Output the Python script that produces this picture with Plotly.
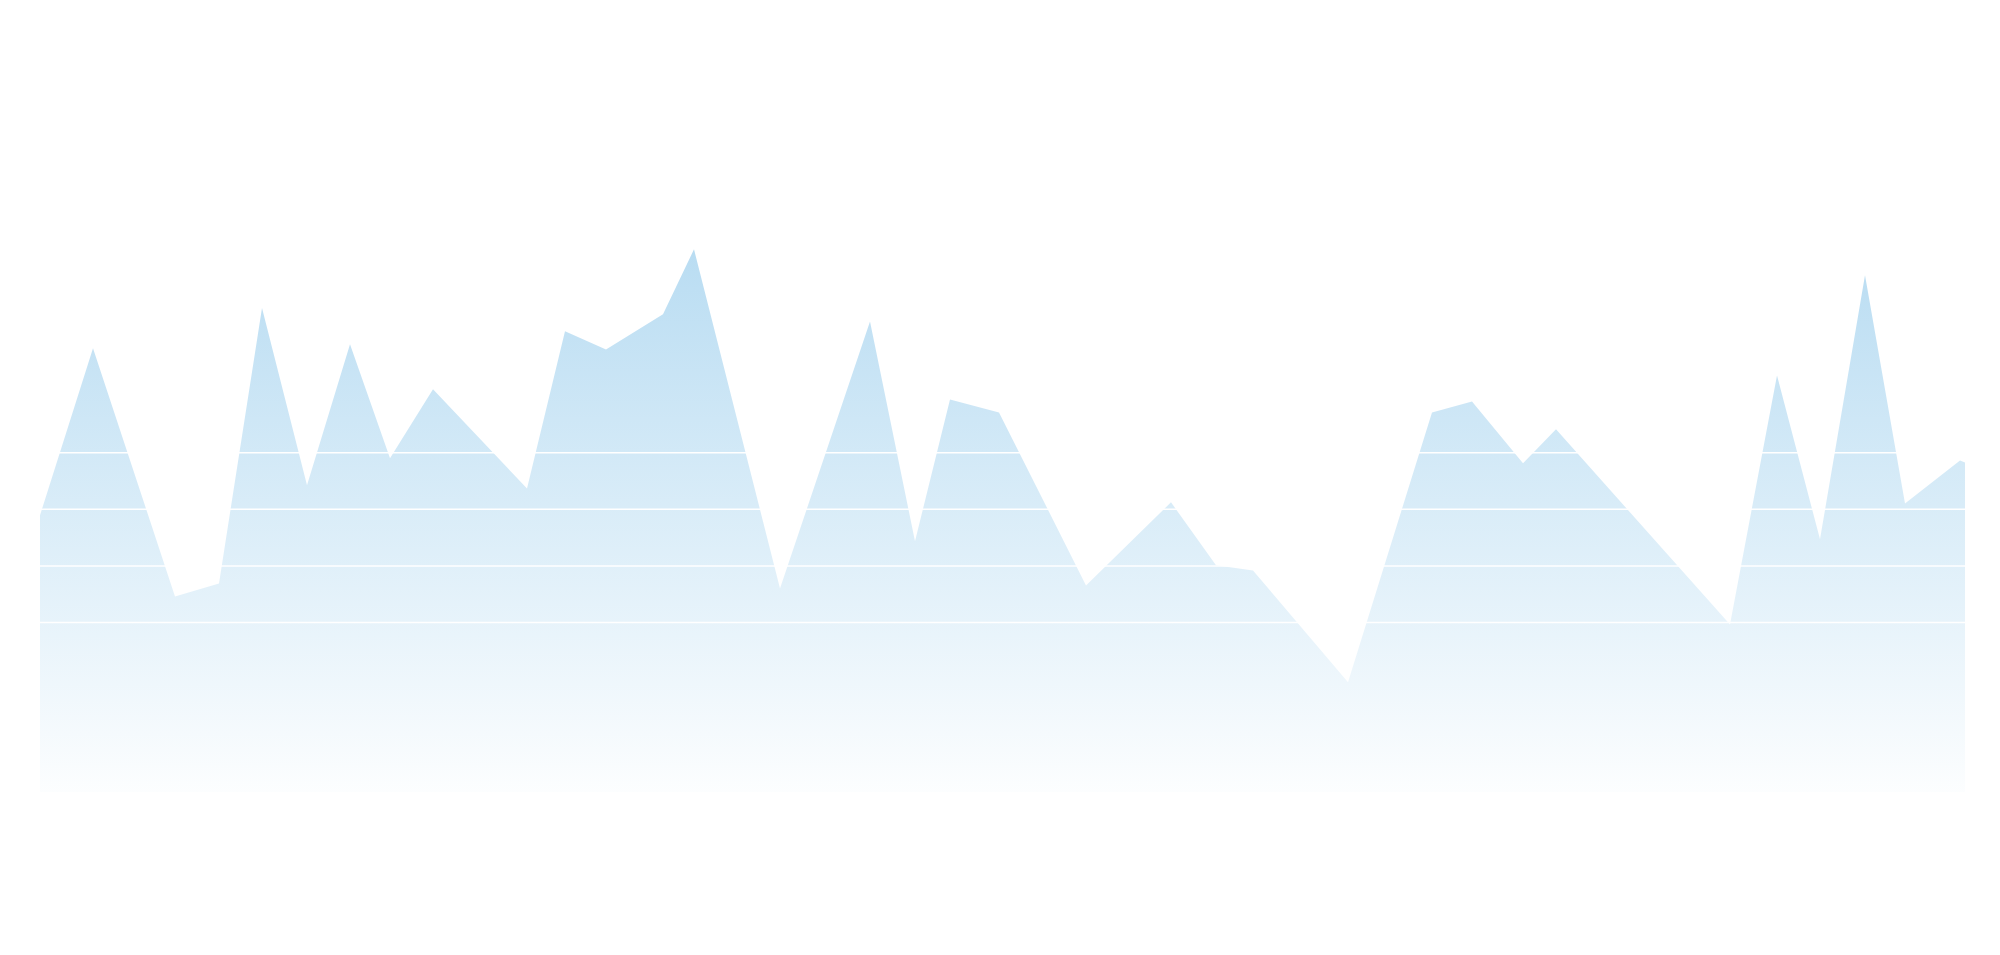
import plotly.graph_objects as go

# x positions (arbitrary units) and values
x_vals = [0, 10.6, 27, 35.8, 44.4, 53.4, 62, 70, 78.6, 97.4, 105, 113.2, 124.6,
          130.8, 148, 166, 175, 182, 191.8, 209.2, 226.2, 235.2, 242.6, 261.6,
          278.4, 286.4, 296.6, 303.2, 338, 347.4, 356, 365, 373, 384, 385]
y_vals = [97.9, 157.0, 69.2, 73.8, 171.2, 108.5, 158.4, 118.1, 142.5, 107.4,
          163.0, 156.6, 169.0, 192.0, 72.0, 166.5, 88.7, 138.9, 134.3, 73.1,
          102.5, 80.2, 78.4, 38.8, 134.3, 138.2, 116.3, 128.3, 59.3, 147.4,
          89.4, 182.8, 102.1, 117.3, 116.6]
grid_vals = [60, 80, 100, 120]

fig = go.Figure()
fig.add_trace(go.Scatter(
    x=x_vals, y=y_vals, mode="lines", fill="tozeroy",
    line=dict(width=0, color="rgba(0,0,0,0)"),
    fillgradient=dict(type="vertical", start=-8, stop=195,
                      colorscale=[[0, "rgb(255,255,255)"], [1, "rgb(184,220,242)"]]),
    hoverinfo="skip", showlegend=False,
))

# white grid lines are drawn on top of the area
for g in grid_vals:
    fig.add_hline(y=g, line=dict(color="white", width=1.5), layer="above")

fig.update_layout(
    width=2000, height=955,
    margin=dict(l=32, r=43, t=100, b=171),
    paper_bgcolor="white", plot_bgcolor="white",
)
fig.update_xaxes(range=[0, 385], showgrid=False, zeroline=False,
                 showticklabels=False, showline=False)
fig.update_yaxes(range=[0, 242], showgrid=False, showticklabels=False,
                 zeroline=False, showline=False)

fig.write_html("out.html")
